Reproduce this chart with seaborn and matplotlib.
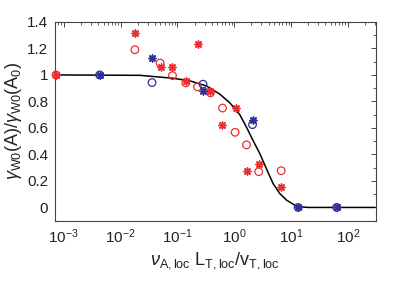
import matplotlib
matplotlib.use("Agg")
import matplotlib.pyplot as plt
import seaborn as sns
import numpy as np
from matplotlib.ticker import LogLocator, MultipleLocator, NullFormatter

# ---- data ----
red_circle_x = [7.3e-4, 0.0178, 0.0494, 0.0817, 0.140, 0.225, 0.380, 0.620, 1.035, 1.64, 2.69, 6.68]
red_circle_y = [1.00, 1.19, 1.09, 0.995, 0.94, 0.91, 0.865, 0.75, 0.567, 0.472, 0.27, 0.277]

red_star_x = [7.3e-4, 0.0178, 0.0508, 0.0817, 0.140, 0.234, 0.380, 1.05, 0.620, 2.69, 1.64, 6.68]
red_star_y = [1.00, 1.32, 1.062, 1.062, 0.955, 1.23, 0.875, 0.75, 0.623, 0.33, 0.275, 0.152]

blue_circle_x = [0.00427, 0.0357, 0.282, 2.09, 13.3, 63.1]
blue_circle_y = [1.00, 0.942, 0.93, 0.625, 0.0, 0.0]

blue_star_x = [0.00427, 0.0357, 0.282, 2.12, 13.3, 63.1]
blue_star_y = [1.00, 1.13, 0.875, 0.662, 0.0, 0.0]

curve_x = [7.0e-4, 0.0219, 0.083, 0.166, 0.324, 0.556, 0.832, 1.25, 1.64, 2.14,
           2.82, 3.69, 4.82, 6.31, 8.32, 11.6, 14.1, 20.0, 300.0]
curve_y = [1.0, 0.997, 0.975, 0.955, 0.917, 0.855, 0.79, 0.70, 0.605, 0.505,
           0.405, 0.29, 0.18, 0.105, 0.055, 0.017, 0.005, 0.0, 0.0]

xlabel = r'$\nu_{\mathrm{A,loc}}\ \mathrm{L}_{\mathrm{T,loc}}/\mathrm{v}_{\mathrm{T,loc}}$'
ylabel = r'$\gamma_{\mathrm{W0}}(\mathrm{A})/\gamma_{\mathrm{W0}}(\mathrm{A}_0)$'

RED = '#ee2e2e'
BLUE = '#30309a'

sns.set_style('white')
plt.rcParams['font.family'] = ['Liberation Sans', 'DejaVu Sans']
plt.rcParams['mathtext.fontset'] = 'custom'
plt.rcParams['mathtext.rm'] = 'Liberation Sans'
plt.rcParams['mathtext.it'] = 'Liberation Sans:italic'

fig = plt.figure(figsize=(4.15, 2.81), dpi=100)
ax = fig.add_axes([0.1325, 0.2146, 0.7725, 0.7074])

sns.lineplot(x=curve_x, y=curve_y, ax=ax, color='black', linewidth=1.1, sort=False,
             estimator=None, zorder=1)

ast = (8, 2, 0)
sns.scatterplot(x=red_circle_x, y=red_circle_y, ax=ax, marker='o', s=30,
                facecolor='none', edgecolor=RED, linewidth=0.9, zorder=3, clip_on=False)
sns.scatterplot(x=red_star_x, y=red_star_y, ax=ax, marker=ast, s=25,
                color=RED, edgecolor=RED, linewidth=1.1, zorder=3, clip_on=False)
sns.scatterplot(x=blue_circle_x, y=blue_circle_y, ax=ax, marker='o', s=30,
                facecolor='none', edgecolor=BLUE, linewidth=0.9, zorder=3, clip_on=False)
sns.scatterplot(x=blue_star_x, y=blue_star_y, ax=ax, marker=ast, s=25,
                color=BLUE, edgecolor=BLUE, linewidth=1.1, zorder=3, clip_on=False)

ax.set_xscale('log')
ax.set_xlim(7.0e-4, 306)
ax.set_ylim(-0.1, 1.4)
ax.set_xticks([1e-3, 1e-2, 1e-1, 1e0, 1e1, 1e2])
ax.xaxis.set_minor_locator(LogLocator(base=10, subs=np.arange(2, 10) * 1.0, numticks=20))
ax.xaxis.set_minor_formatter(NullFormatter())
ax.set_yticks([0, 0.2, 0.4, 0.6, 0.8, 1.0, 1.2, 1.4])
ax.set_yticklabels(['0', '0.2', '0.4', '0.6', '0.8', '1', '1.2', '1.4'])
ax.yaxis.set_minor_locator(MultipleLocator(0.1))

for sp in ax.spines.values():
    sp.set_visible(True)
    sp.set_color('#444444')
    sp.set_linewidth(0.8)

ax.tick_params(which='both', direction='in', top=True, right=True, colors='#444444',
               labelcolor='#222222', labelsize=11)
ax.tick_params(which='major', length=3.5, width=0.7, pad=5)
ax.tick_params(which='minor', length=2, width=0.6)

ax.set_xlabel(xlabel, fontsize=13, color='#222222', labelpad=3)
ax.set_ylabel(ylabel, fontsize=13, color='#222222', labelpad=2)

fig.savefig('out.png', dpi=100)
